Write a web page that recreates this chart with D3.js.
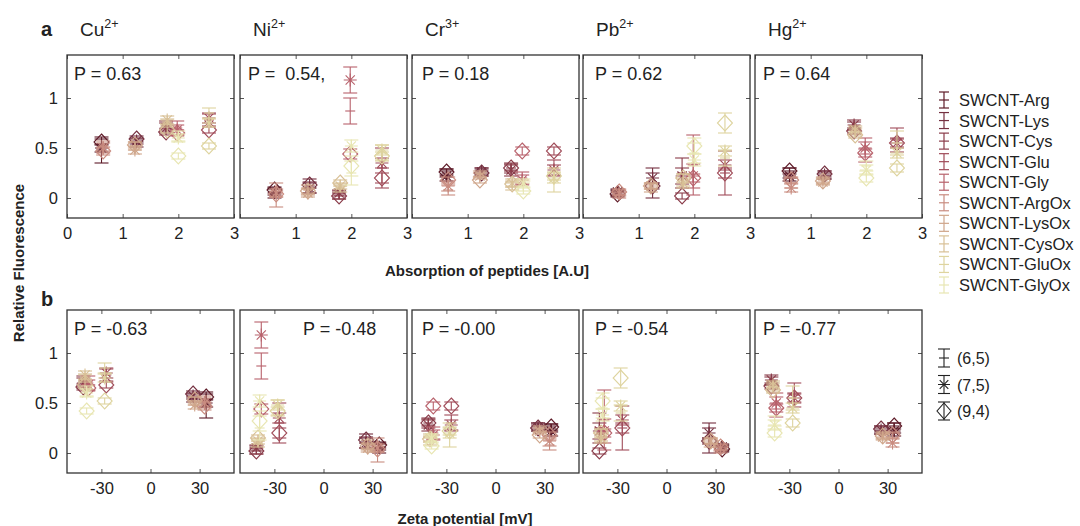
<!DOCTYPE html>
<html>
<head>
<meta charset="utf-8">
<script src="https://cdn.jsdelivr.net/npm/d3@7"></script>
<style>
  body { margin: 0; background: #fff; }
  text { font-family: Arial, "Liberation Sans", sans-serif; fill: #222; }
</style>
</head>
<body>
<div id="chart"></div>
<script>
// ---- data ----
const metals = ["Cu", "Ni", "Cr", "Pb", "Hg"];
const charges = ["2+", "2+", "3+", "2+", "2+"];
const peptides = ["SWCNT-Arg", "SWCNT-Lys", "SWCNT-Cys", "SWCNT-Glu", "SWCNT-Gly",
  "SWCNT-ArgOx", "SWCNT-LysOx", "SWCNT-CysOx", "SWCNT-GluOx", "SWCNT-GlyOx"];
const peptideColors = ["#5e1b28", "#753040", "#8a3c4a", "#a04c59", "#b8626c",
  "#c98c80", "#cfa68b", "#d8c096", "#ded49f", "#e8e6b2"];
const chiralities = ["(6,5)", "(7,5)", "(9,4)"];
const absorption = [0.62, 1.25, 1.78, 2.55, 1.98, 0.65, 1.22, 1.80, 2.55, 2.00];
const zeta = [34, 26, -41, -27, -38, 33, 27, -40, -28, -39];
const pTop = ["P = 0.63", "P =  0.54,", "P = 0.18", "P = 0.62", "P = 0.64"];
const pBottom = ["P = -0.63", "P = -0.48", "P = -0.00", "P = -0.54", "P = -0.77"];

// fluorescence per peptide, [(6,5), (7,5), (9,4)]
const fluoCu = [[0.48,0.50,0.56],[0.55,0.57,0.59],[0.72,0.70,0.66],[0.78,0.80,0.68],[0.70,0.68,0.65],
  [0.52,0.50,0.47],[0.52,0.48,0.53],[0.76,0.78,0.68],[0.85,0.75,0.52],[0.62,0.60,0.42]];
const errCu = [[0.13,0.04,0.03],[0.04,0.03,0.03],[0.05,0.05,0.03],[0.06,0.05,0.03],[0.07,0.05,0.03],
  [0.05,0.05,0.04],[0.04,0.04,0.03],[0.03,0.04,0.03],[0.05,0.04,0.03],[0.05,0.04,0.03]];
const fluoNi = [[0.05,0.06,0.08],[0.12,0.10,0.13],[0.03,0.05,0.02],[0.30,0.35,0.20],[0.87,1.18,0.44],
  [0.03,0.05,0.04],[0.08,0.05,0.07],[0.10,0.12,0.15],[0.45,0.48,0.42],[0.25,0.52,0.32]];
const errNi = [[0.05,0.03,0.03],[0.07,0.05,0.03],[0.04,0.03,0.03],[0.20,0.05,0.05],[0.13,0.13,0.05],
  [0.12,0.04,0.03],[0.05,0.04,0.03],[0.04,0.03,0.03],[0.08,0.05,0.04],[0.12,0.06,0.10]];
const fluoCr = [[0.25,0.22,0.26],[0.27,0.26,0.25],[0.30,0.28,0.30],[0.30,0.28,0.47],[0.20,0.18,0.47],
  [0.08,0.12,0.18],[0.24,0.22,0.18],[0.12,0.15,0.14],[0.18,0.20,0.22],[0.12,0.15,0.07]];
const errCr = [[0.04,0.05,0.03],[0.03,0.04,0.03],[0.05,0.06,0.03],[0.08,0.05,0.04],[0.06,0.05,0.04],
  [0.05,0.05,0.03],[0.03,0.03,0.03],[0.04,0.04,0.03],[0.12,0.05,0.04],[0.05,0.04,0.03]];
const fluoPb = [[0.05,0.06,0.04],[0.15,0.20,0.12],[0.25,0.22,0.02],[0.25,0.33,0.25],[0.33,0.22,0.20],
  [0.03,0.05,0.06],[0.10,0.12,0.12],[0.18,0.15,0.20],[0.40,0.47,0.75],[0.45,0.38,0.52]];
const errPb = [[0.03,0.03,0.03],[0.15,0.05,0.03],[0.15,0.08,0.03],[0.22,0.05,0.05],[0.30,0.12,0.04],
  [0.03,0.03,0.03],[0.04,0.03,0.03],[0.06,0.05,0.04],[0.08,0.05,0.10],[0.10,0.06,0.08]];
const fluoHg = [[0.25,0.22,0.27],[0.22,0.23,0.24],[0.72,0.73,0.67],[0.58,0.55,0.55],[0.48,0.50,0.45],
  [0.15,0.10,0.18],[0.18,0.16,0.17],[0.66,0.68,0.63],[0.55,0.45,0.30],[0.32,0.28,0.20]];
const errHg = [[0.05,0.05,0.03],[0.03,0.04,0.03],[0.04,0.05,0.03],[0.12,0.05,0.04],[0.12,0.06,0.04],
  [0.05,0.04,0.03],[0.03,0.03,0.03],[0.04,0.04,0.03],[0.12,0.05,0.04],[0.05,0.05,0.04]];

const fluo = [fluoCu, fluoNi, fluoCr, fluoPb, fluoHg];
const errs = [errCu, errNi, errCr, errPb, errHg];

// ---- layout ----
const width = 1080, height = 526;
const panelLefts = [67, 240, 412, 583, 755];
const panelW = 167;
const rows = [{ top: 55, bottom: 218 }, { top: 310, bottom: 473 }];

const svg = d3.select("#chart").append("svg")
  .attr("width", width)
  .attr("height", height);

svg.append("rect").attr("width", width).attr("height", height).attr("fill", "#fff");

// draws one errorbar marker
function drawMarker(g, cx, yv, ye, y, chir, color) {
  const cy = y(yv), y0 = y(yv - ye), y1 = y(yv + ye);
  const m = g.append("g").attr("stroke", color).attr("fill", "none").attr("stroke-width", 1.1);
  m.append("line").attr("x1", cx).attr("x2", cx).attr("y1", y0).attr("y2", y1);
  m.append("line").attr("x1", cx - 7).attr("x2", cx + 7).attr("y1", y0).attr("y2", y0);
  m.append("line").attr("x1", cx - 7).attr("x2", cx + 7).attr("y1", y1).attr("y2", y1);
  if (chir === 0) {
    m.append("line").attr("x1", cx - 5).attr("x2", cx + 5).attr("y1", cy).attr("y2", cy);
  } else if (chir === 1) {
    const r = 6.5, d = 4.6;
    m.append("path").attr("d",
      `M${cx - r},${cy}H${cx + r}M${cx},${cy - r}V${cy + r}` +
      `M${cx - d},${cy - d}L${cx + d},${cy + d}M${cx - d},${cy + d}L${cx + d},${cy - d}`);
  } else {
    const rx = 7.5, ry = 8;
    m.append("path").attr("d", `M${cx},${cy - ry}L${cx + rx},${cy}L${cx},${cy + ry}L${cx - rx},${cy}Z`);
  }
}

rows.forEach((row, ri) => {
  const y = d3.scaleLinear().domain([-0.2, 1.43]).range([row.bottom, row.top]);
  metals.forEach((metal, mi) => {
    const left = panelLefts[mi];
    const x = ri === 0
      ? d3.scaleLinear().domain([0, 3]).range([left, left + panelW])
      : d3.scaleLinear().domain([-51, 51]).range([left, left + panelW]);
    const xTicks = ri === 0 ? [0, 1, 2, 3] : [-30, 0, 30];

    const g = svg.append("g");

    // marks
    const marks = g.append("g");
    peptides.forEach((p, pi) => {
      chiralities.forEach((c, ci) => {
        const xv = ri === 0 ? absorption[pi] : zeta[pi];
        drawMarker(marks, x(xv), fluo[mi][pi][ci], errs[mi][pi][ci], y, ci, peptideColors[pi]);
      });
    });

    // axes, inward ticks
    const bottomAxis = d3.axisBottom(x).tickValues(xTicks).tickSizeInner(-4).tickSizeOuter(0).tickPadding(9)
      .tickFormat(d => (ri === 0 && mi > 0 && d === 0) ? "" : String(d));
    g.append("g").attr("transform", `translate(0,${row.bottom})`).call(bottomAxis);
    g.append("g").attr("transform", `translate(0,${row.top})`)
      .call(d3.axisTop(x).tickValues(xTicks).tickSizeInner(-4).tickSizeOuter(0).tickFormat(""));
    const leftAxis = d3.axisLeft(y).tickValues([0, 0.5, 1]).tickSizeInner(-4).tickSizeOuter(0).tickPadding(9)
      .tickFormat(mi === 0 ? d => String(d) : "");
    g.append("g").attr("transform", `translate(${left},0)`).call(leftAxis);
    g.append("g").attr("transform", `translate(${left + panelW},0)`)
      .call(d3.axisRight(y).tickValues([0, 0.5, 1]).tickSizeInner(-4).tickSizeOuter(0).tickFormat(""));
    g.selectAll(".domain").remove();
    g.selectAll(".tick line").attr("stroke", "#555");
    g.selectAll(".tick text").attr("font-size", 16.5).attr("fill", "#222")
      .attr("font-family", "Arial, 'Liberation Sans', sans-serif");

    // frame
    g.append("rect")
      .attr("x", left).attr("y", row.top)
      .attr("width", panelW).attr("height", row.bottom - row.top)
      .attr("fill", "none").attr("stroke", "#333").attr("stroke-width", 1.3);

    // correlation label
    const pText = ri === 0 ? pTop[mi] : pBottom[mi];
    const pOffsets = ri === 0 ? [7, 8, 10, 12, 8] : [7, 63, 10, 12, 8];
    g.append("text")
      .attr("x", left + pOffsets[mi]).attr("y", row.top + 24.5)
      .attr("font-size", 18)
      .style("white-space", "pre")
      .text(pText);

    // metal title
    if (ri === 0) {
      const t = svg.append("text").attr("x", left + 13).attr("y", 36).attr("font-size", 19);
      t.append("tspan").text(metal);
      t.append("tspan").attr("font-size", 12.5).attr("dy", -8).text(charges[mi]);
    }
  });
});

// panel letters
svg.append("text").attr("x", 41).attr("y", 36).attr("font-size", 20).attr("font-weight", "bold").text("a");
svg.append("text").attr("x", 41).attr("y", 306).attr("font-size", 20).attr("font-weight", "bold").text("b");

// axis titles
svg.append("text").attr("x", 487).attr("y", 276).attr("text-anchor", "middle")
  .attr("font-size", 15).attr("font-weight", "bold").text("Absorption of peptides [A.U]");
svg.append("text").attr("x", 465).attr("y", 524).attr("text-anchor", "middle")
  .attr("font-size", 15).attr("font-weight", "bold").text("Zeta potential [mV]");
svg.append("text").attr("transform", "translate(24,263) rotate(-90)").attr("text-anchor", "middle")
  .attr("font-size", 15).attr("font-weight", "bold").text("Relative Fluorescence");

// legend
const legend = svg.append("g");
const legendY = d3.scalePoint().domain(peptides).range([100, 285]);
peptides.forEach((p, i) => {
  const cy = legendY(p);
  const lg = legend.append("g").attr("stroke", peptideColors[i]).attr("stroke-width", 1.2);
  lg.append("line").attr("x1", 944).attr("x2", 944).attr("y1", cy - 8).attr("y2", cy + 8);
  lg.append("line").attr("x1", 939).attr("x2", 949).attr("y1", cy - 8).attr("y2", cy - 8);
  lg.append("line").attr("x1", 939).attr("x2", 949).attr("y1", cy + 8).attr("y2", cy + 8);
  lg.append("line").attr("x1", 939).attr("x2", 949).attr("y1", cy).attr("y2", cy);
  legend.append("text").attr("x", 959).attr("y", cy + 6).attr("font-size", 16.5).text(p);
});

const chirY = d3.scalePoint().domain(chiralities).range([358, 411]);
chiralities.forEach((c, i) => {
  const cy = chirY(c);
  const lg = legend.append("g").attr("stroke", "#222").attr("fill", "none").attr("stroke-width", 1.1);
  lg.append("line").attr("x1", 944).attr("x2", 944).attr("y1", cy - 9).attr("y2", cy + 9);
  lg.append("line").attr("x1", 938).attr("x2", 950).attr("y1", cy - 9).attr("y2", cy - 9);
  lg.append("line").attr("x1", 938).attr("x2", 950).attr("y1", cy + 9).attr("y2", cy + 9);
  if (i === 0) {
    lg.append("line").attr("x1", 939).attr("x2", 949).attr("y1", cy).attr("y2", cy);
  } else if (i === 1) {
    lg.append("path").attr("d",
      `M938,${cy}H950M${944 - 4.3},${cy - 4.3}L${944 + 4.3},${cy + 4.3}M${944 - 4.3},${cy + 4.3}L${944 + 4.3},${cy - 4.3}`);
  } else {
    lg.append("path").attr("d", `M944,${cy - 8}L951,${cy}L944,${cy + 8}L937,${cy}Z`);
  }
  legend.append("text").attr("x", 957).attr("y", cy + 6).attr("font-size", 16).text(c);
});
</script>
</body>
</html>
